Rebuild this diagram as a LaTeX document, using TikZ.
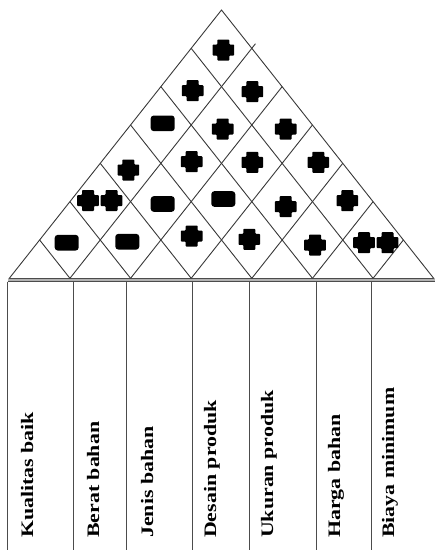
\documentclass[tikz,border=0pt]{standalone}
\usepackage{graphicx}
\usepackage{fontspec}
\setmainfont{Liberation Serif}
\begin{document}
\begin{tikzpicture}[x=1pt,y=-1pt,
  gridline/.style={draw=black!78, line width=0.9pt},
  colline/.style={draw=black!70, line width=1pt},
  collbl/.style={rotate=90, anchor=base west, inner sep=0pt,
    font=\fontsize{17.5}{20}\selectfont\bfseries},
  plussym/.pic={\fill[rounded corners=0.8pt] (-10.8,-5.5) -- (-6,-5.5) -- (-6,-10.5) -- (6,-10.5) -- (6,-5.5) -- (10.8,-5.5) -- (10.8,5.5) -- (6,5.5) -- (6,10.5) -- (-6,10.5) -- (-6,5.5) -- (-10.8,5.5) -- cycle;},
  minussym/.pic={\fill[rounded corners=3pt] (-12,-7.8) rectangle (12,7.8);}
]
\useasboundingbox (0,0) rectangle (435,550);
\def\gL{9.3}\def\gB{278.3}\def\gS{60.63}\def\gH{38.33}
% roof triangle
\coordinate (bl) at (\gL,\gB);
\coordinate (apex) at (221.5,10);
\coordinate (br) at (433.7,\gB);
% band between roof and table
\fill[black!30] (7.5,278.3) rectangle (435,281.7);
\draw[gridline] (bl) -- (apex) -- (br);
\draw[black!70, line width=0.9pt] (bl) -- (br);
\draw[black!70, line width=0.9pt] (7.5,281.7) -- (435,281.7);
% lattice
\foreach \i in {1,...,6} {
  \coordinate (p\i) at ({\gL+\i*\gS},\gB);
  \draw[gridline] (p\i) -- ({\gL+\i*\gS/2},{\gB-\i*\gH});
}
\draw[gridline] (p1) -- ({\gL+\gS+6.12*\gS/2},{\gB-6.12*\gH});
\foreach \i in {2,...,6} {
  \draw[gridline] (p\i) -- ({\gL+\i*\gS+(7-\i)*\gS/2},{\gB-(7-\i)*\gH});
}
% symbols
\pic at (223.3,50) {plussym};
\pic at (192.7,90.7) {plussym};
\pic at (252.3,91.7) {plussym};
\pic at (162.7,123.3) {minussym};
\pic at (222.7,129) {plussym};
\pic at (285.7,129) {plussym};
\pic at (128.3,170) {plussym};
\pic at (191.7,161.7) {plussym};
\pic at (252.3,162.3) {plussym};
\pic at (318.3,162.3) {plussym};
\pic at (88,200.5) {plussym};
\pic at (111.5,200.5) {plussym};
\pic at (162.7,204) {minussym};
\pic at (223.3,199) {minussym};
\pic at (285.7,206.7) {plussym};
\pic at (347.3,200.7) {plussym};
\pic at (66.7,242.7) {minussym};
\pic at (127.3,241.7) {minussym};
\pic at (191.7,236) {plussym};
\pic at (249.3,239.3) {plussym};
\pic at (315,245) {plussym};
\pic at (364,242.7) {plussym};
\pic at (387.5,242.7) {plussym};
% table columns
\foreach \x in {7.7,73.3,126.7,192.7,249.3,316,371.7} {
  \draw[colline] (\x,281.7) -- (\x,550);
}
% labels
\node[collbl] (c1) at (33,538) {\scalebox{1.25}[1]{Kualitas baik}};
\node[collbl] (c2) at (99,538) {\scalebox{1.25}[1]{Berat bahan}};
\node[collbl] (c3) at (153,538) {\scalebox{1.25}[1]{Jenis bahan}};
\node[collbl] (c4) at (216,538) {\scalebox{1.25}[1]{Desain produk}};
\node[collbl] (c5) at (273,538) {\scalebox{1.25}[1]{Ukuran produk}};
\node[collbl] (c6) at (340,538) {\scalebox{1.25}[1]{Harga bahan}};
\node[collbl] (c7) at (394,538) {\scalebox{1.25}[1]{Biaya minimum}};
\end{tikzpicture}
\end{document}
